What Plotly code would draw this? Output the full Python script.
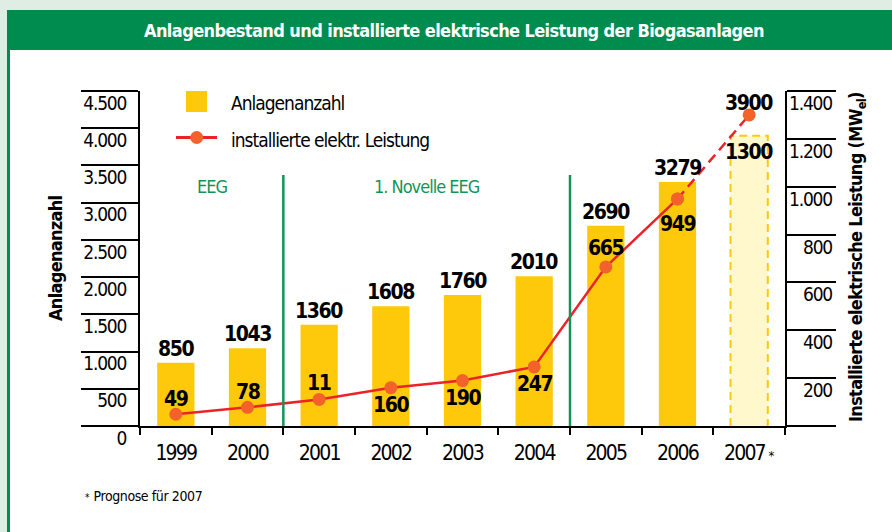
import plotly.graph_objects as go

# ---------------- data ----------------
years = ["1999", "2000", "2001", "2002", "2003", "2004", "2005", "2006", "2007"]
year_tick_labels = ["1999", "2000", "2001", "2002", "2003", "2004", "2005", "2006", "2007"]
counts = [850, 1043, 1360, 1608, 1760, 2010, 2690, 3279, 3900]
count_labels = ["850", "1043", "1360", "1608", "1760", "2010", "2690", "3279", "3900"]
power = [49, 78, 111, 160, 190, 247, 665, 949, 1300]
power_labels = ["49", "78", "11", "160", "190", "247", "665", "949", "1300"]
count_ticks = [0, 500, 1000, 1500, 2000, 2500, 3000, 3500, 4000, 4500]
count_tick_labels = ["0", "500", "1.000", "1.500", "2.000", "2.500", "3.000", "3.500", "4.000", "4.500"]
power_ticks = [0, 200, 400, 600, 800, 1000, 1200, 1400]
power_tick_labels = ["", "200", "400", "600", "800", "1.000", "1.200", "1.400"]
forecast_year = "2007"
eeg_boundaries = ["2000", "2004"]   # vertical separators after these years

# ---------------- styling / layout ----------------
W, H = 892, 532
L, R, T, B = 140, 107, 91, 106
PW, PH = W - L - R, H - T - B
FONT = "DejaVu Sans Condensed, Liberation Sans Narrow, Arial Narrow, sans-serif"
BAR = "#FFC90B"
BAR_FC = "#FFF8CC"
RED = "#EC2229"
MARK = "#F2622A"
GREEN = "#008C4F"
GTEXT = "#129457"
BW = 0.52


def X(px):
    return (px - L) / PW


def Y(py):
    return (H - B - py) / PH


def sp(s, ls):
    return "<span style='letter-spacing:%spx'>%s</span>" % (ls, s)


idx = list(range(len(years)))
fi = years.index(forecast_year)
hist = [i for i in idx if i != fi]

xt = [sp(s, -1.8) for s in year_tick_labels]
xt[fi] = sp(year_tick_labels[fi], -1.8) + "<span style='font-size:13px'> *</span>"

count_label_shift = [14, 14, 14, 14, 14, 14, 14, 14, 33]
power_label_shift = [15, 15, 16, -17, -17, -17, 19, -25, -37]

fig = go.Figure()

fig.add_trace(go.Bar(x=hist, y=[counts[i] for i in hist], width=BW,
                     marker=dict(color=BAR, line=dict(width=0)), yaxis="y"))
fig.add_trace(go.Bar(x=[fi], y=[counts[fi]], width=BW,
                     marker=dict(color=BAR_FC, line=dict(width=0)), yaxis="y"))
hw = BW / 2
fig.add_trace(go.Scatter(x=[fi - hw, fi - hw, fi + hw, fi + hw],
                         y=[0, counts[fi], counts[fi], 0], mode="lines",
                         line=dict(color=BAR, width=2, dash="8px,5px"), yaxis="y"))
fig.add_trace(go.Scatter(x=hist, y=[power[i] for i in hist], mode="lines+markers",
                         line=dict(color=RED, width=2.5),
                         marker=dict(color=MARK, size=13), yaxis="y2"))
fig.add_trace(go.Scatter(x=[fi - 1, fi], y=[power[fi - 1], power[fi]], mode="lines+markers",
                         line=dict(color=RED, width=2.5, dash="10px,6px"),
                         marker=dict(color=MARK, size=13), yaxis="y2"))

shapes = [
    dict(type="rect", xref="paper", yref="paper", x0=X(7), x1=X(W), y0=Y(H), y1=Y(10),
         fillcolor=GREEN, line=dict(width=0), layer="below"),
    dict(type="rect", xref="paper", yref="paper", x0=X(10), x1=X(W), y0=Y(H), y1=Y(50),
         fillcolor="white", line=dict(width=0), layer="below"),
    # legend swatches
    dict(type="rect", xref="paper", yref="paper", x0=X(186), x1=X(207), y0=Y(112), y1=Y(91),
         fillcolor=BAR, line=dict(width=0)),
    dict(type="line", xref="paper", yref="paper", x0=X(176), x1=X(217), y0=Y(137.5), y1=Y(137.5),
         line=dict(color=RED, width=3)),
    dict(type="circle", xref="paper", yref="paper", x0=X(190.2), x1=X(203.2), y0=Y(144), y1=Y(131),
         fillcolor=MARK, line=dict(width=0)),
]
for yb in eeg_boundaries:
    xb = years.index(yb) + 0.5
    shapes.append(dict(type="line", xref="x", yref="paper", x0=xb, x1=xb, y0=0, y1=Y(175),
                       line=dict(color=GTEXT, width=2.5)))


def pa(text, px, py, size, color="black", xanchor="center", angle=0):
    return dict(text=text, xref="paper", yref="paper", x=X(px), y=Y(py), xanchor=xanchor,
                yanchor="middle", textangle=angle, showarrow=False,
                font=dict(family=FONT, size=size, color=color))


ann = [
    pa("<b>" + sp("Anlagenbestand und installierte elektrische Leistung der Biogasanlagen", -0.6) + "</b>",
       454, 31, 18, "white"),
    pa(sp("Anlagenanzahl", -1), 229, 102.7, 19, xanchor="left"),
    pa(sp("installierte elektr. Leistung", -1), 229, 139.5, 19, xanchor="left"),
    pa(sp("EEG", -1), 211.7, 186, 18, GTEXT),
    pa(sp("1. Novelle EEG", -1), 426.7, 186, 18, GTEXT),
    pa("<b>" + sp("Anlagenanzahl", -0.7) + "</b>", 55, 258, 18, angle=-90),
    pa("<b>" + sp("Installierte elektrische Leistung (MW<sub>el</sub>)", -0.7) + "</b>", 857, 257, 18,
       angle=-90),
    pa("<span style='font-size:10px'>*</span> " + sp("Prognose für 2007", -0.4), 83, 496, 14,
       xanchor="left"),
]
for v, t in zip(power_ticks, power_tick_labels):
    if t:
        ann.append(dict(text=sp(t, -1.2), xref="paper", yref="y2", x=X(834), y=v, yshift=-12,
                        xanchor="right", yanchor="middle", showarrow=False,
                        font=dict(family=FONT, size=19, color="black")))
for i in idx:
    ann.append(dict(text="<b>%s</b>" % sp(count_labels[i], -1.4), xref="x", yref="y", x=i, y=counts[i],
                    yshift=count_label_shift[i], xanchor="center", yanchor="middle", showarrow=False,
                    font=dict(family=FONT, size=21, color="black")))
    ann.append(dict(text="<b>%s</b>" % sp(power_labels[i], -1.4), xref="x", yref="y2", x=i, y=power[i],
                    yshift=power_label_shift[i], xanchor="center", yanchor="middle", showarrow=False,
                    font=dict(family=FONT, size=21, color="black")))

fig.update_layout(
    width=W, height=H, autosize=False,
    margin=dict(l=L, r=R, t=T, b=B, pad=0),
    paper_bgcolor="#E0EDE5", plot_bgcolor="rgba(0,0,0,0)",
    showlegend=False, barmode="overlay", hovermode=False,
    shapes=shapes, annotations=ann,
    font=dict(family=FONT, color="black"),
    xaxis=dict(range=[-0.5, len(years) - 0.5], tickmode="array", tickvals=idx, ticktext=xt,
               ticks="", showline=True, linecolor="black", linewidth=2, showgrid=False, zeroline=False,
               tickfont=dict(family=FONT, size=21, color="black"), ticklabelstandoff=7,
               minor=dict(tick0=-0.5, dtick=1, ticks="outside", ticklen=7, tickwidth=1.5,
                          tickcolor="black", showgrid=False),
               fixedrange=True, automargin=False),
    yaxis=dict(range=[0, 4500], tickmode="array", tickvals=count_ticks,
               ticktext=[sp(s, -1.2) for s in count_tick_labels],
               ticks="outside", ticklen=57, tickwidth=1.5, tickcolor="black",
               showline=True, linecolor="black", linewidth=2, showgrid=False, zeroline=False,
               tickfont=dict(family=FONT, size=19, color="black"),
               ticklabelshift=12, ticklabelstandoff=-49, fixedrange=True, automargin=False),
    yaxis2=dict(range=[0, 1400], overlaying="y", side="right", anchor="x",
                tickmode="array", tickvals=power_ticks, ticks="outside", ticklen=49, tickwidth=1.5,
                tickcolor="black", showticklabels=False, showline=True, linecolor="black", linewidth=2,
                showgrid=False, zeroline=False, fixedrange=True, automargin=False),
)

fig.write_html("out.html", config={"displayModeBar": False},
               post_script="document.body.style.margin='0px';")
